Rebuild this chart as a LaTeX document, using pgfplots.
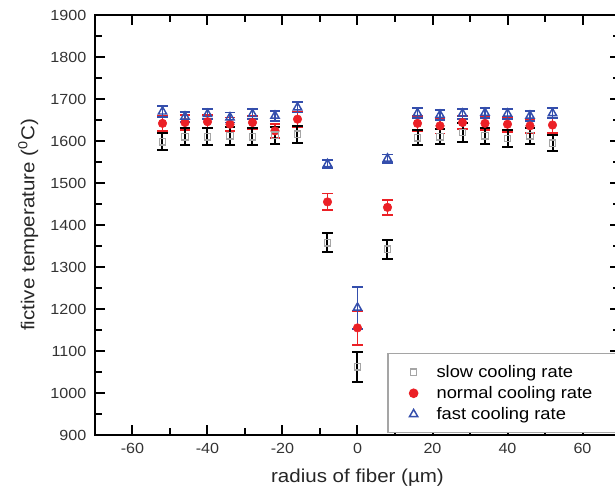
\documentclass[border=0pt]{standalone}
\usepackage{pgfplots}
\pgfplotsset{compat=1.18}
\usepackage{pgfplotstable}
\usepackage{fontspec}
\setmainfont{Liberation Sans}[FakeStretch=1.1]
\definecolor{myred}{RGB}{235,32,38}
\definecolor{myblue}{RGB}{52,78,172}
\definecolor{mygray}{RGB}{165,165,165}
\pgfplotstableread{
x y e
-52 1598 20
-46 1610 20
-40 1610 20
-34 1612 22
-28 1610 20
-22 1614 20
-16 1616 20
-8 1358 22
0 1062 36
8 1342 22
16 1608 18
22 1610 18
28 1620 22
34 1612 20
40 1606 20
46 1612 20
52 1595 20
}\slow
\pgfplotstableread{
x y e
-52 1642 18
-46 1644 18
-40 1646 16
-34 1640 16
-28 1644 16
-22 1624 17
-16 1652 18
-8 1455 20
0 1155 40
8 1442 18
16 1642 18
22 1636 18
28 1644 16
34 1642 16
40 1640 18
46 1636 16
52 1638 18
}\normal
\pgfplotstableread{
x y e
-52 1670 13
-46 1658 12
-40 1664 12
-34 1656 12
-28 1664 12
-22 1660 12
-16 1680 12
-8 1545 10
0 1203 50
8 1558 10
16 1666 12
22 1662 12
28 1665 12
34 1667 12
40 1665 12
46 1660 12
52 1666 12
}\fast
\begin{document}
\begin{tikzpicture}
\begin{axis}[
  scale only axis, width=393.75pt, height=315pt,
  xmin=-70, xmax=70, ymin=900, ymax=1900,
  xtick={-60,-40,...,60}, ytick={900,1000,...,1900},
  minor x tick num=1, minor y tick num=1,
  tick align=inside,
  major tick length=7.5pt, minor tick length=5pt,
  every tick/.style={black, line width=1.5pt},
  axis line style={line width=1.5pt},
  /pgf/number format/assume math mode=true,
  /pgf/number format/1000 sep={},
  tick label style={font=\fontsize{11}{13}\selectfont, text=black!80},
  yticklabel style={xshift=-3pt},
  xticklabel style={yshift=-3pt},
  label style={font=\fontsize{14}{16}\selectfont, text=black!85},
  xlabel={radius of fiber (µm)},
  ylabel={fictive temperature (\textsuperscript{0}C)},
  xlabel style={at={(axis description cs:0.5,0)}, anchor=center, yshift=-32pt},
  ylabel style={at={(axis description cs:0,0.5)}, anchor=center, yshift=50pt},
  legend style={at={(axis cs:8,904)}, anchor=south west, draw=mygray, line width=0.8pt,
    font=\fontsize{12.5}{14}\selectfont, inner xsep=16pt, inner ysep=6pt,
    nodes={inner xsep=1pt, inner ysep=2.6pt},
    /tikz/every odd column/.append style={column sep=13pt}},
  legend cell align=left,
  error bars/y dir=both, error bars/y explicit,
]
\addlegendimage{only marks, mark=square, mark size=2.4pt, mark options={draw=mygray, fill=white, line width=1pt}}
\addlegendentry{slow cooling rate}
\addlegendimage{only marks, mark=*, mark size=3.2pt, mark options={draw=myred, fill=myred}}
\addlegendentry{normal cooling rate\hspace{12pt}}
\addlegendimage{only marks, mark=triangle, mark size=3.6pt, mark options={draw=myblue, fill=white, line width=1.1pt}}
\addlegendentry{fast cooling rate}

\addplot[forget plot, only marks, mark=*, mark size=3.2pt, mark options={draw=myred, fill=myred},
  error bars/error bar style={myred, line width=1.4pt},
  error bars/error mark options={rotate=90, myred, line width=1.4pt, mark size=3.8pt}]
  table[x=x, y=y, y error=e] {\normal};
\addplot[forget plot, only marks, mark=square, mark size=2.4pt, mark options={draw=mygray, fill=white, line width=1pt},
  error bars/error bar style={black, line width=1.5pt},
  error bars/error mark options={rotate=90, black, line width=1.5pt, mark size=3.8pt}]
  table[x=x, y=y, y error=e] {\slow};
\addplot[forget plot, only marks, mark=triangle, mark size=3.6pt, mark options={draw=myblue, fill=white, line width=1.1pt},
  error bars/error bar style={myblue, line width=1.4pt},
  error bars/error mark options={rotate=90, myblue, line width=1.4pt, mark size=3.8pt}]
  table[x=x, y=y, y error=e] {\fast};
\coordinate (SW) at (rel axis cs:0,0);
\coordinate (NE) at (rel axis cs:1,1);
\end{axis}
\pgfresetboundingbox
\path[use as bounding box] ([xshift=-71.25pt,yshift=-42.75pt]SW) rectangle ([xshift=-3.75pt,yshift=11.25pt]NE);
\end{tikzpicture}
\end{document}
